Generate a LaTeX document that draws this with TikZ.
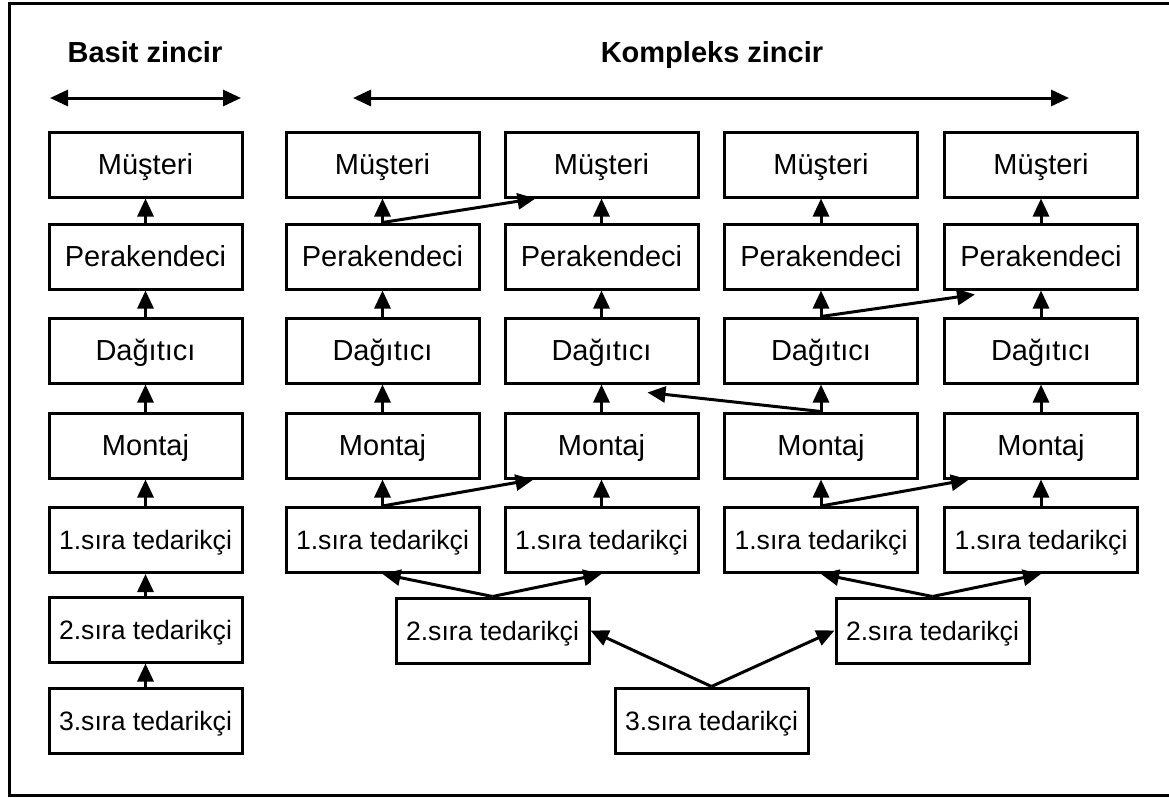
\documentclass[tikz,border=0pt]{standalone}
\usepackage{fontspec}
\setmainfont{Liberation Sans}
\usetikzlibrary{arrows.meta}

\tikzset{
  box/.style={draw, line width=1.5pt, minimum width=96.5pt, minimum height=32.5pt,
    inner sep=0pt, text height=10.4pt, text depth=0pt,
    font=\fontsize{14.5}{17}\selectfont},
  tier/.style={box, text height=9.5pt, font=\fontsize{13.3}{16}\selectfont},
  heading/.style={anchor=base, inner sep=0pt, font=\bfseries\fontsize{14.5}{17}\selectfont},
  flow/.style={line width=1.5pt, -{Triangle[length=9pt,width=8pt]}},
  span/.style={line width=1.5pt, {Triangle[length=9pt,width=8pt]}-{Triangle[length=9pt,width=8pt]}}
}

\begin{document}
\begin{tikzpicture}[x=0.5pt,y=-0.5pt]
\useasboundingbox (0,0) rectangle (1169,798);
% outer frame (its right side runs past the page edge)
\draw[line width=1.5pt] (1172,3) -- (9,3) -- (9,795) -- (1172,795);

% headings and their span arrows
\node[heading] (tbasit) at (145,62) {Basit zincir};
\node[heading] (tkomp) at (712,62) {Kompleks zincir};
\coordinate (bs1) at (50,98);
\coordinate (bs2) at (241,98);
\coordinate (ks1) at (353,98);
\coordinate (ks2) at (1069,98);
\draw[span] (bs1) -- (bs2);
\draw[span] (ks1) -- (ks2);

% simple chain
\node[box]  (l1) at (145.5,164.5) {Müşteri};
\node[box]  (l2) at (145.5,256.5) {Perakendeci};
\node[box]  (l3) at (145.5,350.5) {Dağıtıcı};
\node[box]  (l4) at (145.5,445.5) {Montaj};
\node[tier] (l5) at (145.5,540)   {1.sıra tedarikçi};
\node[tier] (l6) at (145.5,629.5) {2.sıra tedarikçi};
\node[tier] (l7) at (145.5,720.5) {3.sıra tedarikçi};
\foreach \a/\b in {l2/l1,l3/l2,l4/l3,l5/l4,l6/l5,l7/l6}
  \draw[flow] (\a.north) -- (\b.south);

% complex chain: four parallel columns
\foreach \c/\x in {a/382.5,b/601.5,c/821,d/1041}{
  \node[box]  (\c1) at (\x,164.5) {Müşteri};
  \node[box]  (\c2) at (\x,256.5) {Perakendeci};
  \node[box]  (\c3) at (\x,350.5) {Dağıtıcı};
  \node[box]  (\c4) at (\x,445.5) {Montaj};
  \node[tier] (\c5) at (\x,540)   {1.sıra tedarikçi};
  \foreach \p/\q in {2/1,3/2,4/3,5/4}
    \draw[flow] (\c\p.north) -- (\c\q.south);
}
\node[tier] (s2l) at (492.5,630.5) {2.sıra tedarikçi};
\node[tier] (s2r) at (932.5,630.5) {2.sıra tedarikçi};
\node[tier] (s3)  at (711.5,720.5) {3.sıra tedarikçi};

% cross links between columns
\draw[flow] (a2.north) -- ([xshift=16pt]b1.south west);
\draw[flow] (a5.north) -- ([xshift=15pt]b4.south west);
\draw[flow] (c4.north) -- ([xshift=-26pt,yshift=-4pt]b3.south east);
\draw[flow] (c3.north) -- ([xshift=16pt,yshift=-2pt]d2.south west);
\draw[flow] (c5.north) -- ([xshift=13pt]d4.south west);

% supplier tiers
\draw[flow] (s2l.north) -- (a5.south);
\draw[flow] (s2l.north) -- (b5.south);
\draw[flow] (s2r.north) -- (c5.south);
\draw[flow] (s2r.north) -- (d5.south);
\draw[flow] (s3.north) -- (s2l.east);
\draw[flow] (s3.north) -- (s2r.west);
\end{tikzpicture}
\end{document}
